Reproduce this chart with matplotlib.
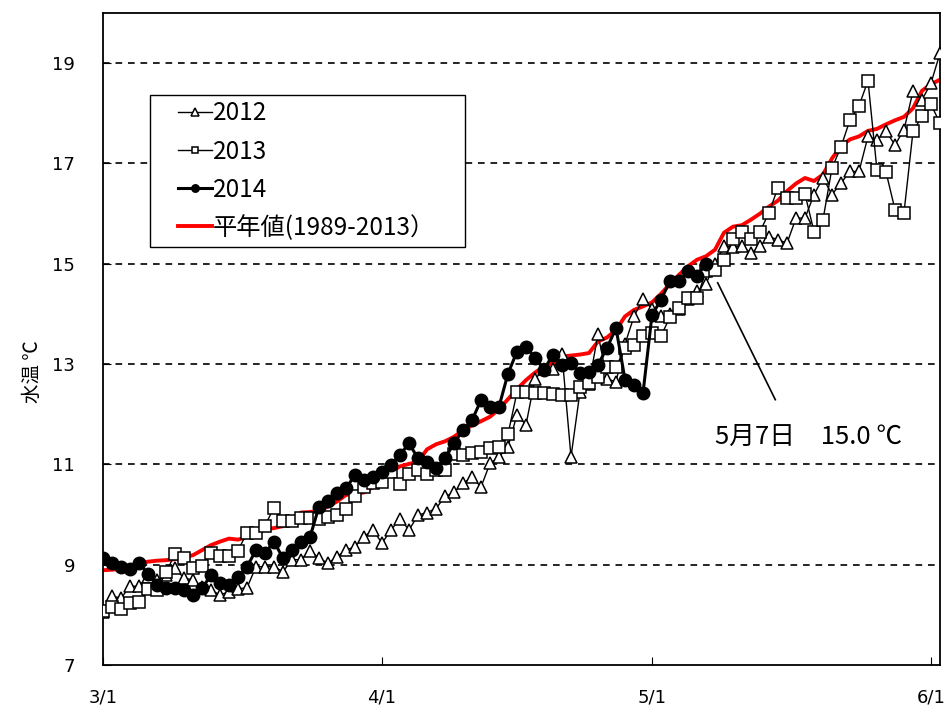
import numpy as np
import matplotlib
matplotlib.use("Agg")
import matplotlib.pyplot as plt
from matplotlib.patches import Rectangle

plt.rcParams['font.family'] = ['DejaVu Sans', 'Noto Sans CJK JP']
JP = ['Noto Sans CJK JP', 'DejaVu Sans']

# days counted from 3/1
days_all = np.arange(94)
days_2014 = np.arange(68)

t2012 = [8.05, 8.38, 8.33, 8.57, 8.57, 8.75, 8.70, 8.79, 8.93, 8.73,
         8.70, 8.55, 8.49, 8.40, 8.46, 8.52, 8.54, 8.96, 8.96, 8.96,
         8.86, 9.10, 9.10, 9.28, 9.13, 9.03, 9.16, 9.29, 9.36, 9.56,
         9.69, 9.43, 9.69, 9.92, 9.69, 9.99, 10.04, 10.12, 10.36, 10.44,
         10.62, 10.75, 10.55, 11.02, 11.15, 11.35, 11.99, 11.79, 12.70, 12.90,
         12.90, 13.20, 11.15, 12.45, 12.60, 13.60, 12.70, 12.65, 13.40, 13.95,
         14.30, 14.10, 13.95, 14.00, 14.10, 14.30, 14.45, 14.60, 15.00, 15.35,
         15.33, 15.35, 15.21, 15.35, 15.54, 15.48, 15.41, 15.91, 15.91, 16.38,
         16.71, 16.38, 16.61, 16.84, 16.84, 17.54, 17.47, 17.64, 17.37, 17.67,
         18.44, 18.27, 18.60, 19.20]

t2013 = [8.08, 8.16, 8.12, 8.23, 8.25, 8.51, 8.50, 8.85, 9.21, 9.13,
         8.94, 8.98, 9.23, 9.18, 9.18, 9.28, 9.64, 9.64, 9.78, 10.14,
         9.87, 9.87, 9.94, 9.94, 9.92, 9.96, 9.99, 10.12, 10.36, 10.55,
         10.62, 10.65, 10.85, 10.61, 10.81, 10.89, 10.81, 10.89, 10.89, 11.21,
         11.19, 11.23, 11.25, 11.32, 11.34, 11.60, 12.44, 12.45, 12.42, 12.42,
         12.41, 12.38, 12.38, 12.55, 12.63, 12.75, 12.94, 12.94, 13.32, 13.39,
         13.56, 13.62, 13.56, 13.94, 14.12, 14.32, 14.32, 14.85, 14.88, 15.07,
         15.50, 15.64, 15.50, 15.64, 16.02, 16.52, 16.32, 16.32, 16.39, 15.64,
         15.88, 16.91, 17.33, 17.87, 18.15, 18.65, 16.86, 16.83, 16.08, 16.02,
         17.64, 17.94, 18.18, 17.80]

t2014 = [9.13, 9.04, 8.95, 8.91, 9.04, 8.81, 8.59, 8.53, 8.53, 8.49,
         8.40, 8.53, 8.79, 8.63, 8.59, 8.76, 8.96, 9.29, 9.23, 9.46,
         9.13, 9.29, 9.46, 9.55, 10.16, 10.26, 10.42, 10.52, 10.79, 10.69,
         10.75, 10.85, 10.99, 11.19, 11.42, 11.12, 11.05, 10.92, 11.12, 11.42,
         11.68, 11.88, 12.28, 12.15, 12.15, 12.81, 13.25, 13.35, 13.12, 12.89,
         13.19, 12.99, 13.02, 12.82, 12.85, 12.99, 13.32, 13.72, 12.69, 12.59,
         12.42, 13.98, 14.28, 14.66, 14.65, 14.85, 14.76, 15.00]

normal = [8.89, 8.90, 8.92, 8.98, 9.03, 9.06, 9.08, 9.09, 9.11, 9.15,
          9.19, 9.29, 9.39, 9.46, 9.52, 9.50, 9.55, 9.63, 9.70, 9.73,
          9.77, 9.90, 10.04, 10.05, 10.08, 10.16, 10.26, 10.39, 10.42, 10.44,
          10.55, 10.72, 10.86, 10.96, 11.01, 11.05, 11.30, 11.40, 11.46, 11.55,
          11.68, 11.78, 11.86, 11.95, 12.10, 12.30, 12.50, 12.68, 12.83, 12.95,
          13.02, 13.15, 13.17, 13.19, 13.22, 13.45, 13.53, 13.68, 13.95, 14.08,
          14.15, 14.23, 14.40, 14.60, 14.78, 14.95, 15.08, 15.15, 15.28, 15.62,
          15.74, 15.77, 15.88, 16.00, 16.14, 16.26, 16.45, 16.60, 16.71, 16.65,
          16.78, 17.10, 17.35, 17.48, 17.54, 17.65, 17.69, 17.78, 17.86, 17.93,
          18.10, 18.45, 18.58, 18.67]

xtick_pos = [0, 31, 61, 92]
xtick_labels = ['3/1', '4/1', '5/1', '6/1']
yticks = [7, 9, 11, 13, 15, 17, 19]

fig = plt.figure(figsize=(9.53, 7.16), dpi=100)
ax = fig.add_axes([103/953, 51/716, 837/953, 652/716])

ax.plot(days_all, normal, color='#ff0000', lw=2.8, zorder=2,
        label='平年値(1989-2013）')
ax.plot(days_all, t2012, color='k', lw=1.0, marker='^', ms=9,
        mfc='white', mec='k', mew=1.1, zorder=3, label='2012')
ax.plot(days_all, t2013, color='k', lw=1.0, marker='s', ms=8,
        mfc='white', mec='k', mew=1.1, zorder=4, label='2013')
ax.plot(days_2014, t2014, color='k', lw=2.2, marker='o', ms=9,
        mfc='k', mec='k', zorder=5, label='2014')

for y in yticks[1:]:
    ax.axhline(y, color='k', lw=1.2, ls=(0, (4, 3.5)), zorder=1)

ax.set_xlim(0, 93)
ax.set_ylim(7, 20)
ax.set_xticks(xtick_pos)
ax.set_xticklabels(xtick_labels)
ax.set_yticks(yticks)
ax.tick_params(axis='x', direction='in', length=6, pad=17, labelsize=13)
ax.tick_params(axis='y', direction='in', length=6, pad=20, labelsize=13)
for s in ax.spines.values():
    s.set_linewidth(1.3)

ax.set_ylabel('水温 ℃', fontsize=14, family=JP)
ax.yaxis.set_label_coords(-0.072, 0.45)

# annotation for 2014-05-07
ax.plot([68.3, 74.7], [14.62, 12.29], color='k', lw=1.2, zorder=6)
ax.text(68.0, 11.55, '5月7日　15.0 ℃', fontsize=18.5, va='center', ha='left',
        family=JP)

# legend: frame drawn separately so it can be wider than its content
ax.add_patch(Rectangle((0.0562, 0.641), 0.3763, 0.233, transform=ax.transAxes,
                       fill=True, fc='white', ec='k', lw=1.0, zorder=7))
h, l = ax.get_legend_handles_labels()
order = [1, 2, 3, 0]
leg = ax.legend([h[i] for i in order], [l[i] for i in order],
                loc='upper left', bbox_to_anchor=(0.0896, 0.866),
                borderaxespad=0, frameon=False, markerscale=0.6,
                handlelength=1.4, handletextpad=0.05, labelspacing=0.5,
                borderpad=0, prop={'family': JP, 'size': 17.5})
leg.set_zorder(8)

fig.savefig('out.png', dpi=100)
